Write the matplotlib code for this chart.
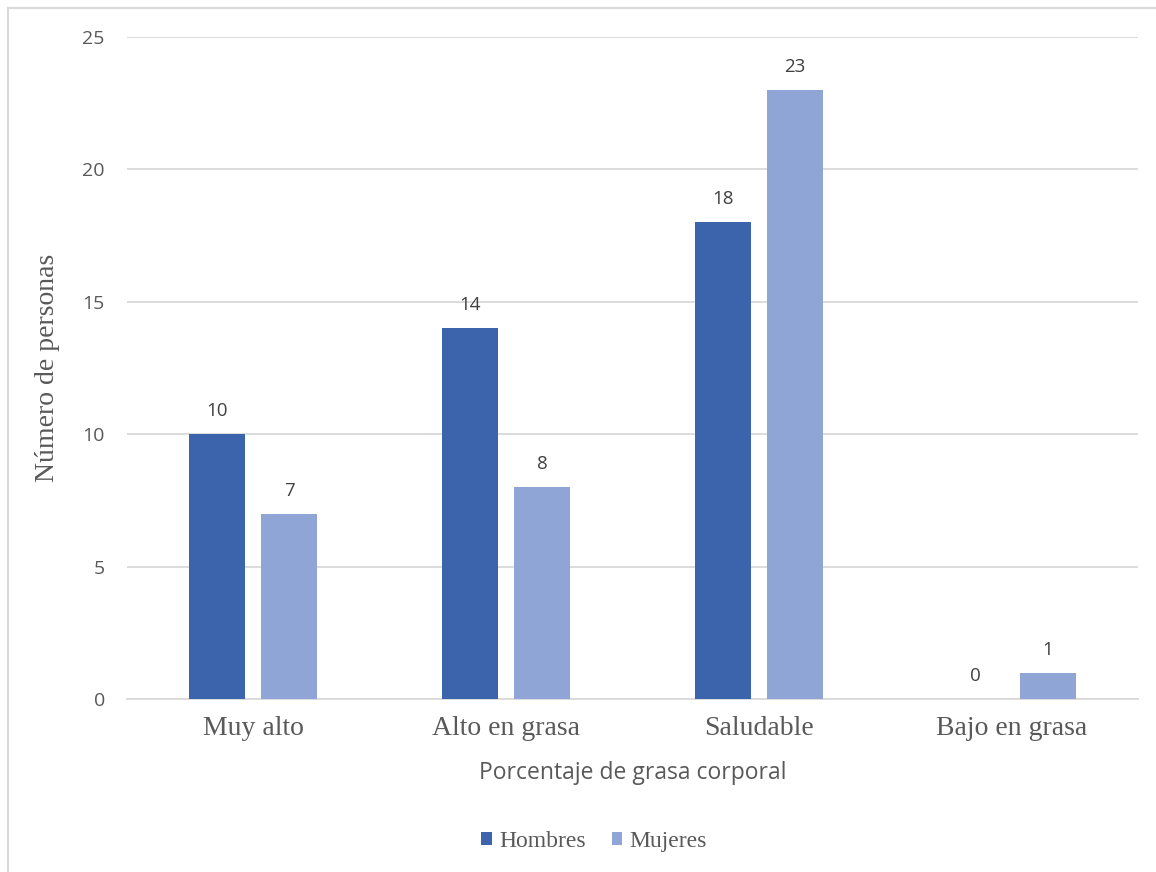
import numpy as np
import matplotlib.pyplot as plt
from matplotlib.patches import Rectangle

categorias = ['Muy alto', 'Alto en grasa', 'Saludable', 'Bajo en grasa']
hombres = [10, 14, 18, 0]
mujeres = [7, 8, 23, 1]

col_h = '#3B64AD'
col_m = '#8FA5D5'
gris = '#595959'
serif = 'Liberation Serif'
sans = 'Open Sans'

fig = plt.figure(figsize=(11.56, 8.72), dpi=100)
ax = fig.add_axes([0.1099, 0.1984, 0.8746, 0.7592])

# borde del area del grafico
fig.patches.append(Rectangle((8 / 1156, -0.05), 1.1, 1 - 8 / 872 + 0.05,
                             transform=fig.transFigure, fill=False,
                             edgecolor='#D9D9D9', linewidth=1.5))

x = np.arange(len(categorias))
w = 0.2216
off = 0.1424
b1 = ax.bar(x - off, hombres, w, color=col_h, label='Hombres', zorder=3)
b2 = ax.bar(x + off, mujeres, w, color=col_m, label='Mujeres', zorder=3)

for bars in (b1, b2):
    for r in bars:
        h = r.get_height()
        ax.annotate(f'{int(h)}', (r.get_x() + r.get_width() / 2, h),
                    xytext=(0, 10), textcoords='offset points',
                    ha='center', va='bottom', fontsize=13.5,
                    family=sans, color='#404040')

ax.set_xlim(-0.5, 3.5)
ax.set_ylim(0, 25)
ax.set_yticks([0, 5, 10, 15, 20, 25])
ax.yaxis.grid(True, color='#D9D9D9', linewidth=1.3, zorder=0)
ax.set_axisbelow(True)
for s in ['top', 'right', 'left']:
    ax.spines[s].set_visible(False)
ax.spines['bottom'].set_color('#D9D9D9')
ax.spines['bottom'].set_linewidth(1.3)

ax.set_xticks(x)
ax.set_xticklabels(categorias, family=serif, fontsize=20, color=gris)
ax.tick_params(axis='x', length=0, pad=12)
ax.tick_params(axis='y', length=0, pad=16, labelsize=14, labelcolor=gris)
for t in ax.get_yticklabels():
    t.set_family(sans)

ax.set_xlabel('Porcentaje de grasa corporal', family=sans, fontsize=16.5,
              color=gris, labelpad=15)
ax.set_ylabel('Número de personas', family=serif, fontsize=20,
              color=gris, labelpad=16)

leg = fig.legend(handles=[b1, b2], loc='center', bbox_to_anchor=(0.514, 0.035),
                 ncol=2, frameon=False, prop={'family': serif, 'size': 17},
                 handlelength=0.45, handleheight=0.45, handletextpad=0.3,
                 columnspacing=1.1)
for t in leg.get_texts():
    t.set_color(gris)

fig.savefig('out.png', dpi=100)
